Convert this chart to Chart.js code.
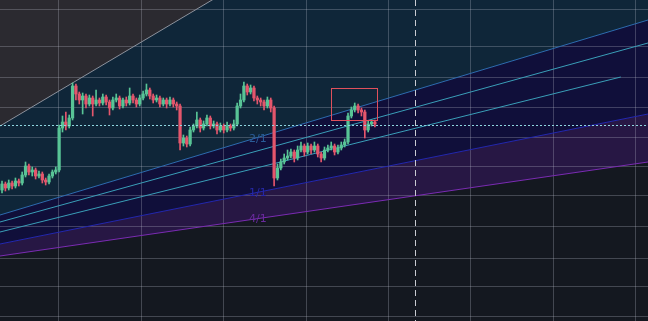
<!DOCTYPE html>
<html>
<head>
<meta charset="utf-8">
<script src="https://cdn.jsdelivr.net/npm/chart.js@4.4.1/dist/chart.umd.min.js"></script>
<style>
  html, body { margin: 0; padding: 0; background: #141820; }
  #wrap { width: 648px; height: 321px; }
</style>
</head>
<body>
<div id="wrap"><canvas id="chart"></canvas></div>
<script>
// candle OHLC values
const opens  = [210,216,212,217,214,219,217,225,234,228,230,224,226,220,218,224,228,230,272,278,274,282,314,306,300,304,296,302,296,300,297,303,298,292,300,302,294,300,297,304,300,296,302,306,310,304,300,302,296,300,296,300,296,294,257,262,256,270,274,280,272,276,282,274,276,270,274,270,274,272,276,294,300,314,308,312,302,300,298,294,300,292,222,232,238,242,244,248,242,250,254,248,254,250,254,246,242,250,252,254,248,252,255,258,284,290,294,290,288,270,276,278];
const closes = [216,212,217,214,219,217,225,234,228,230,224,226,220,218,224,228,230,272,278,274,282,314,306,300,304,296,302,296,300,297,303,298,292,300,302,294,300,297,304,300,296,302,306,310,304,300,302,296,300,296,300,296,294,257,262,256,270,274,280,272,276,282,274,276,270,274,270,274,272,276,294,300,314,308,312,302,300,298,294,300,292,222,232,238,242,244,248,242,250,254,248,254,250,254,246,242,250,252,254,248,252,255,258,284,290,294,290,288,270,276,278,276];
const highs  = [219,218,220,219,222,221,228,238,236,233,232,229,228,222,226,230,233,275,284,288,285,317,316,308,307,306,305,304,310,302,306,305,300,303,306,304,302,303,312,306,302,305,309,316,312,306,305,304,302,302,303,302,298,296,265,264,273,276,288,282,279,285,284,279,278,277,276,278,276,280,297,306,318,316,315,314,304,302,300,303,302,294,236,241,246,250,251,250,254,258,256,257,256,258,256,248,253,255,258,256,255,258,261,287,293,297,296,292,290,279,280,280];
const lows   = [207,209,210,211,212,214,215,223,225,224,221,222,217,215,216,222,226,228,268,270,272,280,300,296,286,292,294,284,294,294,295,295,285,290,298,291,292,294,295,297,293,294,300,304,301,297,298,293,294,292,294,293,290,250,254,253,254,268,272,268,270,274,271,272,266,268,267,268,269,270,274,292,298,305,306,299,296,294,290,292,288,214,220,230,236,240,242,238,240,248,244,246,246,248,243,238,240,248,250,245,246,250,253,256,282,288,287,284,262,268,274,273];

// fan lines: [start, end] as [candle index, price]
const fanLines = [
  { name: "fan0", pts: [[-0.6, 274], [192.3, 659]] },
  { name: "2/1",  pts: [[-0.6, 185], [192.3, 380]] },
  { name: "fan2", pts: [[-0.6, 178], [192.3, 357]] },
  { name: "fan3", pts: [[-0.6, 168], [184.2, 323]] },
  { name: "1/1",  pts: [[-0.6, 156], [192.3, 286]] },
  { name: "4/1",  pts: [[-0.6, 144], [192.3, 238]] },
];
const fanLabels = [
  { text: "2/1", line: 1, at: 73.5 },
  { text: "1/1", line: 4, at: 73.5 },
  { text: "4/1", line: 5, at: 73.5 },
];

// grid / markers
const xGridTicks = [16.8, 41.6, 65.8, 90.5, 115.0, 139.5, 164.1, 188.6];
const yGridTicks = [391, 354, 323, 293, 263, 234, 205, 174, 142, 114, 84];
const lastPrice = 275;
const cursorIndex = 122.9;
const box = { x0: 97.9, x1: 111.6, y0: 312, y1: 280 };

const UP = "#58c496";
const DOWN = "#e4566c";
const candleColors = opens.map((o, i) => (closes[i] >= o ? UP : DOWN));

// candles take dataset slots 0 and 1, fan lines start at 2
const LINE_BASE = 2;
const lineColors = ["#8d939e", "#2e6cb0", "#3a9fb8", "#3a9fb8", "#2428b0", "#7b2cb3"];
// fill from each line to another fan line (by fan index) or to the top
const fillColors = [
  { target: "end", color: "#2b2a30" },
  { target: 0, color: "#0f2639" },
  false,
  false,
  { target: 1, color: "#100f3a" },
  { target: 4, color: "#271744" },
];

const lineSets = fanLines.map((l, k) => {
  const f = fillColors[k];
  return {
    type: "line",
    label: l.name,
    data: l.pts.map((p) => ({ x: p[0], y: p[1] })),
    borderColor: lineColors[k],
    borderWidth: 1,
    pointRadius: 0,
    fill: f ? (typeof f.target === "number" ? f.target + LINE_BASE : f.target) : false,
    backgroundColor: f ? f.color : "transparent",
    order: 2,
  };
});

const idx = opens.map((_, i) => i);

// annotations on top of the candles
const extras = {
  id: "extras",
  afterDatasetsDraw(chart) {
    const c = chart.ctx;
    const xs = chart.scales.x;
    const ys = chart.scales.y;
    const a = chart.chartArea;
    c.save();
    // labels
    c.font = "11px 'DejaVu Sans'";
    c.textAlign = "left";
    c.textBaseline = "middle";
    const labelColors = ["#2a5c98", "#2628a8", "#6a2a9e"];
    fanLabels.forEach((lb, k) => {
      const p = fanLines[lb.line].pts;
      const t = (lb.at - p[0][0]) / (p[1][0] - p[0][0]);
      const v = p[0][1] + t * (p[1][1] - p[0][1]);
      c.fillStyle = labelColors[k];
      c.fillText(lb.text, xs.getPixelForValue(lb.at), ys.getPixelForValue(v) - 1);
    });
    // last price dotted line
    const py = Math.round(ys.getPixelForValue(lastPrice)) + 0.5;
    c.strokeStyle = "#8fd6e0";
    c.lineWidth = 1;
    c.setLineDash([2, 2]);
    c.beginPath();
    c.moveTo(a.left, py);
    c.lineTo(a.right, py);
    c.stroke();
    // vertical cursor
    const px = Math.round(xs.getPixelForValue(cursorIndex)) + 0.5;
    c.strokeStyle = "#c9cbd2";
    c.setLineDash([6, 4]);
    c.beginPath();
    c.moveTo(px, a.top);
    c.lineTo(px, a.bottom);
    c.stroke();
    // rectangle
    c.setLineDash([]);
    c.strokeStyle = "#e0505c";
    const bx0 = Math.round(xs.getPixelForValue(box.x0)) + 0.5;
    const bx1 = Math.round(xs.getPixelForValue(box.x1)) + 0.5;
    const by0 = Math.round(ys.getPixelForValue(box.y0)) + 0.5;
    const by1 = Math.round(ys.getPixelForValue(box.y1)) + 0.5;
    c.strokeRect(bx0, by0, bx1 - bx0, by1 - by0);
    c.restore();
  },
};

new Chart(document.getElementById("chart"), {
  type: "bar",
  plugins: [extras],
  data: {
    datasets: [
      {
        label: "wicks",
        data: idx.map((i) => ({ x: i, y: [lows[i], highs[i]] })),
        backgroundColor: candleColors,
        barThickness: 1,
        grouped: false,
        order: 1,
      },
      {
        label: "bodies",
        data: idx.map((i) => ({ x: i, y: [opens[i], closes[i]] })),
        backgroundColor: candleColors,
        barThickness: 2.6,
        minBarLength: 1,
        grouped: false,
        order: 0,
      },
      ...lineSets,
    ],
  },
  options: {
    responsive: true,
    maintainAspectRatio: false,
    animation: false,
    events: [],
    layout: { padding: 0 },
    plugins: {
      legend: { display: false },
      tooltip: { enabled: false },
      // fills go under the grid
      filler: { drawTime: "beforeDraw" },
    },
    scales: {
      x: {
        type: "linear",
        min: -0.6,
        max: 192.3,
        offset: false,
        afterBuildTicks: (s) => { s.ticks = xGridTicks.map((v) => ({ value: v })); },
        ticks: { display: false },
        grid: { color: "rgba(190,195,210,0.28)", drawTicks: false, offset: false },
        border: { display: false },
      },
      y: {
        type: "linear",
        min: 79,
        max: 400,
        afterBuildTicks: (s) => { s.ticks = yGridTicks.map((v) => ({ value: v })); },
        ticks: { display: false },
        grid: { color: "rgba(190,195,210,0.28)", drawTicks: false },
        border: { display: false },
      },
    },
  },
});
</script>
</body>
</html>
